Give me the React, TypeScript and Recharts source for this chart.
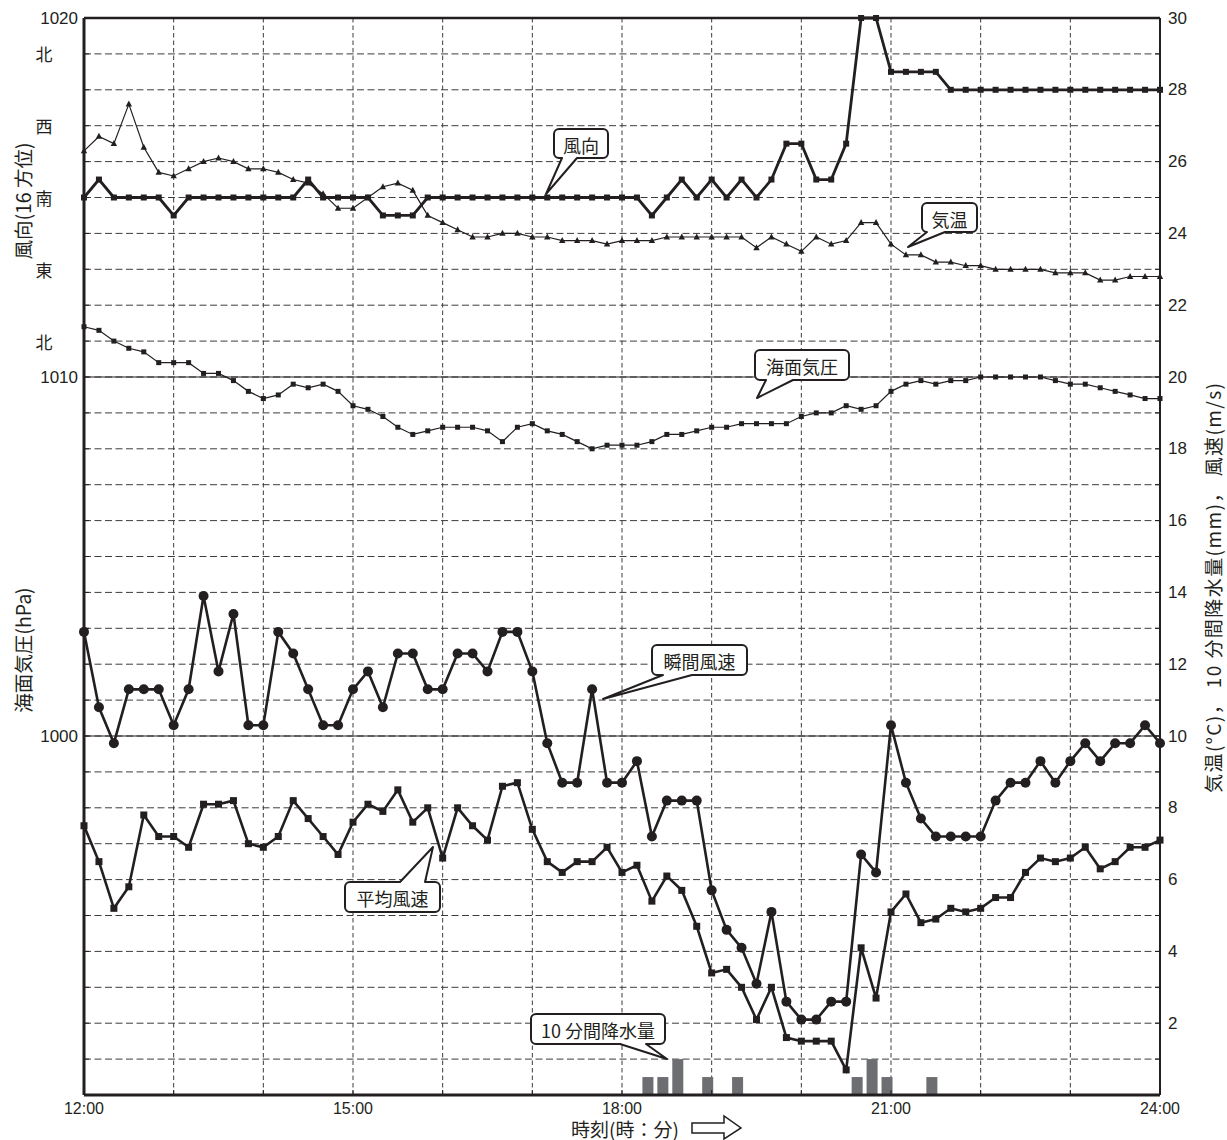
import React from "react";
import {
  ComposedChart,
  Line,
  Bar,
  XAxis,
  YAxis,
  CartesianGrid,
  ReferenceLine,
} from "recharts";

/* ── Data: 10-minute observations, 12:00 – 24:00 ── */
const timeLabels = ["12:00", "15:00", "18:00", "21:00", "24:00"];
const pressureLabels = [1000, 1010, 1020];

// 16-point compass (風向)
const dirNames16 = [
  "北", "北北東", "北東", "東北東", "東", "東南東", "南東", "南南東",
  "南", "南南西", "南西", "西南西", "西", "西北西", "北西", "北北西",
];
const dirAxisLabels = ["北", "東", "南", "西", "北"];

const windDir = [
  "南", "南南西", "南", "南", "南", "南", "南南東", "南", "南", "南",
  "南", "南", "南", "南", "南", "南南西", "南", "南", "南", "南",
  "南南東", "南南東", "南南東", "南", "南", "南", "南", "南", "南", "南",
  "南", "南", "南", "南", "南", "南", "南", "南", "南南東", "南",
  "南南西", "南", "南南西", "南", "南南西", "南", "南南西", "西南西", "西南西", "南南西",
  "南南西", "西南西", "北東", "北東", "北北西", "北北西", "北北西", "北北西", "北西", "北西",
  "北西", "北西", "北西", "北西", "北西", "北西", "北西", "北西", "北西", "北西",
  "北西", "北西", "北西",
];

// 気温 (°C)
const temperature = [
  26.3, 26.7, 26.5, 27.6, 26.4, 25.7, 25.6, 25.8, 26.0, 26.1,
  26.0, 25.8, 25.8, 25.7, 25.5, 25.4, 25.1, 24.7, 24.7, 25.0,
  25.3, 25.4, 25.2, 24.5, 24.3, 24.1, 23.9, 23.9, 24.0, 24.0,
  23.9, 23.9, 23.8, 23.8, 23.8, 23.7, 23.8, 23.8, 23.8, 23.9,
  23.9, 23.9, 23.9, 23.9, 23.9, 23.6, 23.9, 23.7, 23.5, 23.9,
  23.7, 23.8, 24.3, 24.3, 23.7, 23.4, 23.4, 23.2, 23.2, 23.1,
  23.1, 23.0, 23.0, 23.0, 23.0, 22.9, 22.9, 22.9, 22.7, 22.7,
  22.8, 22.8, 22.8,
];

// 海面気圧 (hPa)
const pressure = [
  1011.4, 1011.3, 1011.0, 1010.8, 1010.7, 1010.4, 1010.4, 1010.4, 1010.1, 1010.1,
  1009.9, 1009.6, 1009.4, 1009.5, 1009.8, 1009.7, 1009.8, 1009.6, 1009.2, 1009.1,
  1008.9, 1008.6, 1008.4, 1008.5, 1008.6, 1008.6, 1008.6, 1008.5, 1008.2, 1008.6,
  1008.7, 1008.5, 1008.4, 1008.2, 1008.0, 1008.1, 1008.1, 1008.1, 1008.2, 1008.4,
  1008.4, 1008.5, 1008.6, 1008.6, 1008.7, 1008.7, 1008.7, 1008.7, 1008.9, 1009.0,
  1009.0, 1009.2, 1009.1, 1009.2, 1009.6, 1009.8, 1009.9, 1009.8, 1009.9, 1009.9,
  1010.0, 1010.0, 1010.0, 1010.0, 1010.0, 1009.9, 1009.8, 1009.8, 1009.7, 1009.6,
  1009.5, 1009.4, 1009.4,
];

// 瞬間風速 (m/s)
const gust = [
  12.9, 10.8, 9.8, 11.3, 11.3, 11.3, 10.3, 11.3, 13.9, 11.8,
  13.4, 10.3, 10.3, 12.9, 12.3, 11.3, 10.3, 10.3, 11.3, 11.8,
  10.8, 12.3, 12.3, 11.3, 11.3, 12.3, 12.3, 11.8, 12.9, 12.9,
  11.8, 9.8, 8.7, 8.7, 11.3, 8.7, 8.7, 9.3, 7.2, 8.2,
  8.2, 8.2, 5.7, 4.6, 4.1, 3.1, 5.1, 2.6, 2.1, 2.1,
  2.6, 2.6, 6.7, 6.2, 10.3, 8.7, 7.7, 7.2, 7.2, 7.2,
  7.2, 8.2, 8.7, 8.7, 9.3, 8.7, 9.3, 9.8, 9.3, 9.8,
  9.8, 10.3, 9.8,
];

// 平均風速 (m/s)
const meanWind = [
  7.5, 6.5, 5.2, 5.8, 7.8, 7.2, 7.2, 6.9, 8.1, 8.1,
  8.2, 7.0, 6.9, 7.2, 8.2, 7.7, 7.2, 6.7, 7.6, 8.1,
  7.9, 8.5, 7.6, 8.0, 6.6, 8.0, 7.5, 7.1, 8.6, 8.7,
  7.4, 6.5, 6.2, 6.5, 6.5, 6.9, 6.2, 6.4, 5.4, 6.1,
  5.7, 4.7, 3.4, 3.5, 3.0, 2.1, 3.0, 1.6, 1.5, 1.5,
  1.5, 0.7, 4.1, 2.7, 5.1, 5.6, 4.8, 4.9, 5.2, 5.1,
  5.2, 5.5, 5.5, 6.2, 6.6, 6.5, 6.6, 6.9, 6.3, 6.5,
  6.9, 6.9, 7.1,
];

// 10 分間降水量 (mm)
const rain = [
  0, 0, 0, 0, 0, 0, 0, 0, 0, 0,
  0, 0, 0, 0, 0, 0, 0, 0, 0, 0,
  0, 0, 0, 0, 0, 0, 0, 0, 0, 0,
  0, 0, 0, 0, 0, 0, 0, 0, 0.5, 0.5,
  1.0, 0, 0.5, 0, 0.5, 0, 0, 0, 0, 0,
  0, 0, 0.5, 1.0, 0.5, 0, 0, 0.5, 0, 0,
  0, 0, 0, 0, 0, 0, 0, 0, 0, 0,
  0, 0, 0,
];

/* ── Helpers ── */
const ink = "#231f20";
const numFont = "'Liberation Sans', Arial, sans-serif";
const jpFont = "'Noto Sans CJK JP', 'Noto Sans', sans-serif";

// compass name -> position on the right-hand (0–30) scale; 北〜東北東 wrap to the top
const dirPos = (name: string) => {
  const i = dirNames16.indexOf(name);
  return i < 4 ? i + 16 : i;
};
const dirValue = (name: string) => 21 + dirPos(name) * 0.5;

const startMin = 12 * 60;
const data = temperature.map((t, i) => ({
  min: startMin + i * 10,
  dir: dirValue(windDir[i]),
  temp: t,
  hpa: pressure[i],
  gust: gust[i],
  wind: meanWind[i],
  rain: rain[i],
}));

const hourTicks = Array.from({ length: 13 }, (_, i) => startMin + i * 60);
const rightTicks = Array.from({ length: 31 }, (_, i) => i);
const leftTicks = Array.from({ length: 31 }, (_, i) => 990 + i);

/* ── Custom ticks (tick marks point inside the plot) ── */
function LeftTick(props: any) {
  const { x, y, payload } = props;
  const v = Number(payload.value);
  const k = dirAxisLabels.findIndex((_, j) => 990 + 21 + j * 2 === v);
  return (
    <g>
      <line x1={x} x2={x + 5} y1={y} y2={y} stroke={ink} strokeWidth={1} />
      {pressureLabels.includes(v) && (
        <text x={x - 6} y={y} textAnchor="end" dominantBaseline="central" fontFamily={numFont} fontSize={17} fill={ink}>
          {v}
        </text>
      )}
      {k >= 0 && (
        <text x={44} y={y} textAnchor="middle" dominantBaseline="central" fontFamily={jpFont} fontSize={17} fill={ink}>
          {dirAxisLabels[k]}
        </text>
      )}
    </g>
  );
}

function RightTick(props: any) {
  const { x, y, payload } = props;
  const v = Number(payload.value);
  return (
    <g>
      <line x1={x} x2={x - 5} y1={y} y2={y} stroke={ink} strokeWidth={1} />
      {v > 0 && v % 2 === 0 && (
        <text x={x + 8} y={y} textAnchor="start" dominantBaseline="central" fontFamily={numFont} fontSize={17} fill={ink}>
          {v}
        </text>
      )}
    </g>
  );
}

function BottomTick(props: any) {
  const { x, y, payload } = props;
  const v = Number(payload.value);
  const k = (v - startMin) / 180;
  return (
    <g>
      <line x1={x} x2={x} y1={y} y2={y - 5} stroke={ink} strokeWidth={1} />
      {Number.isInteger(k) && (
        <text x={x} y={y + 13} textAnchor="middle" dominantBaseline="central" fontFamily={numFont} fontSize={16} fill={ink}>
          {timeLabels[k]}
        </text>
      )}
    </g>
  );
}

/* ── Markers ── */
const squareDot = (s: number) => (p: any) => (
  <rect key={`s${s}-${p.index}`} x={p.cx - s / 2} y={p.cy - s / 2} width={s} height={s} fill={ink} />
);
const triangleDot = (p: any) => (
  <polygon
    key={`t-${p.index}`}
    points={`${p.cx},${p.cy - 3.6} ${p.cx - 3.2},${p.cy + 2.4} ${p.cx + 3.2},${p.cy + 2.4}`}
    fill={ink}
  />
);
const circleDot = (p: any) => <circle key={`c-${p.index}`} cx={p.cx} cy={p.cy} r={5} fill={ink} />;

/* ── Callout balloons ── */
type Callout = {
  text: string;
  x: number; y: number; w: number; h: number;
  side: "top" | "bottom";
  b1: number; b2: number;
  tx: number; ty: number;
};

const callouts: Callout[] = [
  { text: "風向", x: 554, y: 129, w: 54, h: 29, side: "bottom", b1: 562, b2: 577, tx: 546, ty: 194 },
  { text: "気温", x: 922, y: 203, w: 55, h: 29, side: "bottom", b1: 927, b2: 945, tx: 908, ty: 247 },
  { text: "海面気圧", x: 755, y: 350, w: 94, h: 30, side: "bottom", b1: 766, b2: 793, tx: 757, ty: 398 },
  { text: "瞬間風速", x: 652, y: 645, w: 95, h: 30, side: "bottom", b1: 663, b2: 692, tx: 603, ty: 699 },
  { text: "平均風速", x: 345, y: 882, w: 95, h: 30, side: "top", b1: 400, b2: 425, tx: 433, ty: 847 },
  { text: "10 分間降水量", x: 531, y: 1014, w: 134, h: 30, side: "bottom", b1: 620, b2: 646, tx: 667, ty: 1059 },
];

function calloutPath(c: Callout) {
  const r = 5;
  const { x, y, w, h } = c;
  const top =
    c.side === "top"
      ? `L ${c.b1} ${y} L ${c.tx} ${c.ty} L ${c.b2} ${y} `
      : "";
  const bottom =
    c.side === "bottom"
      ? `L ${c.b2} ${y + h} L ${c.tx} ${c.ty} L ${c.b1} ${y + h} `
      : "";
  return (
    `M ${x + r} ${y} ` + top +
    `L ${x + w - r} ${y} A ${r} ${r} 0 0 1 ${x + w} ${y + r} ` +
    `L ${x + w} ${y + h - r} A ${r} ${r} 0 0 1 ${x + w - r} ${y + h} ` +
    bottom +
    `L ${x + r} ${y + h} A ${r} ${r} 0 0 1 ${x} ${y + h - r} ` +
    `L ${x} ${y + r} A ${r} ${r} 0 0 1 ${x + r} ${y} Z`
  );
}

function Overlay() {
  return (
    <svg width={1227} height={1140} style={{ position: "absolute", left: 0, top: 0, pointerEvents: "none" }}>
      {callouts.map((c) => (
        <g key={c.text}>
          <path d={calloutPath(c)} fill="#fff" stroke={ink} strokeWidth={2} strokeLinejoin="round" />
          <text
            x={c.x + c.w / 2}
            y={c.y + c.h / 2 + 1}
            textAnchor="middle"
            dominantBaseline="central"
            fontFamily={jpFont}
            fontSize={18}
            fill={ink}
          >
            {c.text}
          </text>
        </g>
      ))}

      {/* axis titles */}
      <text transform="translate(22,201) rotate(-90)" textAnchor="middle" dominantBaseline="central" fontFamily={jpFont} fontSize={19.5} fill={ink}>
        風向(16 方位)
      </text>
      <text transform="translate(22,650) rotate(-90)" textAnchor="middle" dominantBaseline="central" fontFamily={jpFont} fontSize={19.5} fill={ink}>
        海面気圧(hPa)
      </text>
      <text
        transform="translate(1212,588) rotate(-90)"
        textAnchor="middle"
        dominantBaseline="central"
        fontFamily={jpFont}
        fontSize={19}
        textLength={410}
        lengthAdjust="spacing"
        fill={ink}
      >
        気温(°C)， 10 分間降水量(mm)， 風速(m/s)
      </text>
      <text x={625} y={1128} textAnchor="middle" dominantBaseline="central" fontFamily={jpFont} fontSize={19} fill={ink}>
        時刻(時：分)
      </text>
      <polygon
        points="692,1123 724,1123 724,1116 741,1128 724,1139 724,1133 692,1133"
        fill="#fff"
        stroke={ink}
        strokeWidth={1.5}
      />
    </svg>
  );
}

export default function App() {
  return (
    <div style={{ position: "absolute", left: 0, top: 0, width: 1227, height: 1140, background: "#fff" }}>
      <ComposedChart width={1227} height={1140} data={data} margin={{ top: 18, right: 0, bottom: 0, left: 0 }}>
        <CartesianGrid yAxisId="v" vertical={false} stroke="#3c3c3c" strokeDasharray="7 3.5" />
        <CartesianGrid yAxisId="v" horizontal={false} stroke="#3c3c3c" strokeDasharray="4.5 3" />
        <XAxis
          type="number"
          dataKey="min"
          domain={[720, 1440]}
          ticks={hourTicks}
          interval={0}
          height={45}
          tickSize={0}
          tickMargin={0}
          tickLine={false}
          tick={<BottomTick />}
          axisLine={{ stroke: ink, strokeWidth: 3 }}
        />
        <YAxis
          yAxisId="hpa"
          orientation="left"
          domain={[990, 1020]}
          ticks={leftTicks}
          interval={0}
          width={84}
          tickSize={0}
          tickMargin={0}
          tickLine={false}
          tick={<LeftTick />}
          axisLine={{ stroke: ink, strokeWidth: 3 }}
        />
        <YAxis
          yAxisId="v"
          orientation="right"
          domain={[0, 30]}
          ticks={rightTicks}
          interval={0}
          width={67}
          tickSize={0}
          tickMargin={0}
          tickLine={false}
          tick={<RightTick />}
          axisLine={{ stroke: ink, strokeWidth: 2 }}
        />
        <ReferenceLine yAxisId="v" y={30} stroke={ink} strokeWidth={2.5} />
        <ReferenceLine yAxisId="v" y={20} stroke={ink} strokeWidth={1.2} />
        <ReferenceLine yAxisId="v" y={10} stroke={ink} strokeWidth={1.2} />

        <Bar
          yAxisId="v"
          dataKey="rain"
          barSize={11}
          fill="#6d6e71"
          isAnimationActive={false}
          shape={(p: any) => <rect x={p.x - 4} y={p.y} width={p.width} height={p.height} fill="#6d6e71" />}
        />

        <Line yAxisId="hpa" dataKey="hpa" type="linear" stroke={ink} strokeWidth={1.2} dot={squareDot(5)} isAnimationActive={false} />
        <Line yAxisId="v" dataKey="temp" type="linear" stroke={ink} strokeWidth={1.2} dot={triangleDot} isAnimationActive={false} />
        <Line yAxisId="v" dataKey="dir" type="linear" stroke={ink} strokeWidth={2.8} dot={squareDot(6)} isAnimationActive={false} />
        <Line yAxisId="v" dataKey="wind" type="linear" stroke={ink} strokeWidth={2.6} dot={squareDot(7)} isAnimationActive={false} />
        <Line yAxisId="v" dataKey="gust" type="linear" stroke={ink} strokeWidth={2.6} dot={circleDot} isAnimationActive={false} />
      </ComposedChart>
      <Overlay />
    </div>
  );
}
